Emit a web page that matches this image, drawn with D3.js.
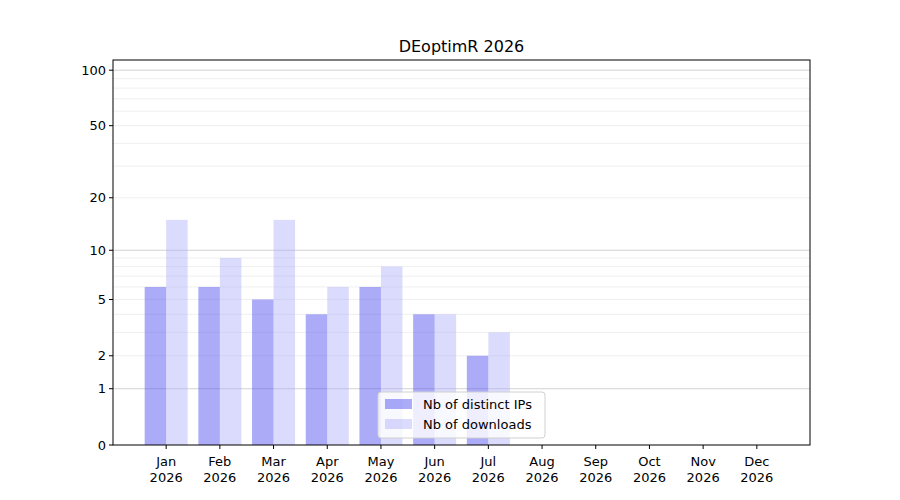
<!DOCTYPE html>
<html>
<head>
<meta charset="utf-8">
<script src="https://cdn.jsdelivr.net/npm/d3@7"></script>
<style>
  body { margin: 0; background: #fff; }
  text { font-family: "DejaVu Sans", sans-serif; }
</style>
</head>
<body>
<div id="chart"></div>
<script>
const months = ["Jan", "Feb", "Mar", "Apr", "May", "Jun", "Jul", "Aug", "Sep", "Oct", "Nov", "Dec"];
const year = "2026";
const distinctIPs = [6, 6, 5, 4, 6, 4, 2, 0, 0, 0, 0, 0];
const downloads = [15, 9, 15, 6, 8, 4, 3, 0, 0, 0, 0, 0];
const yTicks = [0, 1, 2, 5, 10, 20, 50, 100];
const majorGrid = [1, 10, 100];
const minorGrid = [2, 3, 4, 5, 6, 7, 8, 9, 20, 30, 40, 50, 60, 70, 80, 90];

const width = 900, height = 500;
const plotLeft = 113, plotRight = 810, plotTop = 60, plotBottom = 445;

const svg = d3.select("#chart").append("svg")
    .attr("width", width)
    .attr("height", height);

// log(1+x) vertical scale
const yLin = d3.scaleLinear().domain([0, Math.log10(114.5)]).range([plotBottom, plotTop]);
const y = v => yLin(Math.log10(1 + v));

const x = d3.scaleLinear().domain([-0.99, 11.99]).range([plotLeft, plotRight]);
const barW = 21.5;

// grid
svg.selectAll(".minor").data(minorGrid).enter().append("line")
    .attr("x1", plotLeft).attr("x2", plotRight)
    .attr("y1", d => y(d)).attr("y2", d => y(d))
    .attr("stroke", "#ebebeb").attr("stroke-width", 0.8);
svg.selectAll(".major").data(majorGrid).enter().append("line")
    .attr("x1", plotLeft).attr("x2", plotRight)
    .attr("y1", d => y(d)).attr("y2", d => y(d))
    .attr("stroke", "#c8c8c8").attr("stroke-width", 0.8);

// bars
svg.selectAll(".ip").data(distinctIPs).enter().append("rect")
    .attr("x", (d, i) => x(i) - barW)
    .attr("width", barW)
    .attr("y", d => y(d))
    .attr("height", d => plotBottom - y(d))
    .attr("fill", "rgb(80,80,240)").attr("fill-opacity", 0.48);
svg.selectAll(".dl").data(downloads).enter().append("rect")
    .attr("x", (d, i) => x(i))
    .attr("width", barW)
    .attr("y", d => y(d))
    .attr("height", d => plotBottom - y(d))
    .attr("fill", "rgb(170,170,250)").attr("fill-opacity", 0.42);

// frame
svg.append("rect")
    .attr("x", plotLeft).attr("y", plotTop)
    .attr("width", plotRight - plotLeft).attr("height", plotBottom - plotTop)
    .attr("fill", "none").attr("stroke", "#000").attr("stroke-width", 1);

// y axis
const yAx = svg.append("g");
yTicks.forEach(t => {
    yAx.append("line").attr("x1", plotLeft - 4).attr("x2", plotLeft)
        .attr("y1", y(t)).attr("y2", y(t)).attr("stroke", "#000");
    yAx.append("text").attr("x", plotLeft - 7).attr("y", y(t)).attr("dy", "0.35em")
        .attr("text-anchor", "end").attr("font-size", 13).text(t);
});

// x axis
months.forEach((m, i) => {
    svg.append("line").attr("x1", x(i)).attr("x2", x(i))
        .attr("y1", plotBottom).attr("y2", plotBottom + 4).attr("stroke", "#000");
    const t = svg.append("text").attr("x", x(i)).attr("y", plotBottom + 21)
        .attr("text-anchor", "middle").attr("font-size", 13);
    t.append("tspan").attr("x", x(i)).text(m);
    t.append("tspan").attr("x", x(i)).attr("dy", 16).text(year);
});

// title
svg.append("text").attr("x", (plotLeft + plotRight) / 2).attr("y", 52)
    .attr("text-anchor", "middle").attr("font-size", 16).text("DEoptimR 2026");

// legend
const lg = svg.append("g").attr("transform", "translate(378,392)");
lg.append("rect").attr("width", 167).attr("height", 46).attr("rx", 3)
    .attr("fill", "#fff").attr("fill-opacity", 0.8).attr("stroke", "#d0d0d0");
[["Nb of distinct IPs", "rgb(80,80,240)", 0.48], ["Nb of downloads", "rgb(170,170,250)", 0.42]].forEach((d, i) => {
    lg.append("rect").attr("x", 7).attr("y", 7 + i * 20).attr("width", 27).attr("height", 10)
        .attr("fill", d[1]).attr("fill-opacity", d[2]);
    lg.append("text").attr("x", 45).attr("y", 12 + i * 20).attr("dy", "0.35em")
        .attr("font-size", 13).text(d[0]);
});
</script>
</body>
</html>
